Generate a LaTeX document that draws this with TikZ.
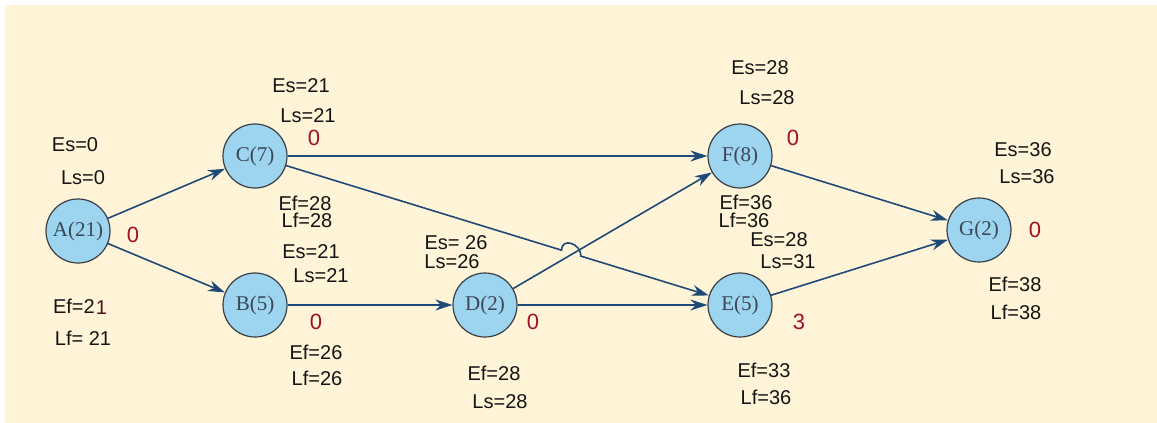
\documentclass[tikz,border=0pt]{standalone}
\usepackage{fontspec}
\setmainfont{Liberation Sans}
\newfontfamily\nodefont{Liberation Serif}
\usetikzlibrary{arrows.meta,calc}
\definecolor{bgcream}{HTML}{FFF4D8}
\definecolor{nodeblue}{HTML}{9DD4F0}
\definecolor{nodeedge}{HTML}{3A3F44}
\definecolor{arrowblue}{HTML}{1F4A78}
\definecolor{slackred}{HTML}{9E1030}
\definecolor{labtext}{HTML}{141414}
\definecolor{nodetext}{HTML}{3C4656}
\begin{document}
\begin{tikzpicture}[x=1pt,y=-1pt,
  act/.style={circle,draw=nodeedge,line width=1.2pt,fill=nodeblue,minimum size=64pt,inner sep=0pt,
    font=\nodefont\fontsize{21}{24}\selectfont,text=nodetext},
  lab/.style={font=\fontsize{20}{23}\selectfont,text=labtext,inner sep=0pt},
  slack/.style={font=\fontsize{22}{25}\selectfont,text=slackred,inner sep=0pt},
  link/.style={draw=arrowblue,line width=1.6pt,-{Stealth[length=17pt,width=11pt]}}]
\useasboundingbox (0,0) rectangle (1157,423);
\fill[white] (0,0) rectangle (1157,423);
\fill[bgcream] (5,5) rectangle (1157,423);

% activities
\node[act] (A) at (78,231) {A(21)};
\node[act] (C) at (255,156) {C(7)};
\node[act] (B) at (255,305) {B(5)};
\node[act] (D) at (485,305) {D(2)};
\node[act] (F) at (740,156) {F(8)};
\node[act] (E) at (740,305) {E(5)};
\node[act] (G) at (979,230) {G(2)};

% connectors
\draw[link] (A) -- (C);
\draw[link] (A) -- (B);
\draw[link] (C) -- (F);
\draw[link] (B) -- (D);
\draw[link] (D) -- (E);
\draw[link] (D) -- (F);
\coordinate (j1) at ($(C)!0.632!(E)$);
\coordinate (j2) at ($(C)!0.672!(E)$);
\draw[link] (C) -- (j1) .. controls ($(j1)+(0,-13)$) and ($(j2)+(0,-13)$) .. (j2) -- (E);
\draw[link] (F) -- (G);
\draw[link] (E) -- (G);

% A
\node[lab] (aes) at (75,145) {Es=0};
\node[lab] (als) at (83,178) {Ls=0};
\node[lab] (aef) at (80,307) {Ef=2\kern1pt\raisebox{-1.5pt}{\color{slackred!40!labtext}1}};
\node[lab] (alf) at (83,338) {Lf= 21};
\node[slack] (asl) at (133,235) {0};
% C
\node[lab] (ces) at (301,86) {Es=21};
\node[lab] (cls) at (308,116) {Ls=21};
\node[slack] (csl) at (314,138) {0};
\node[lab] (cef) at (305,203) {Ef=28};
\node[lab] (clf) at (307,220) {Lf=28};
% B
\node[lab] (bes) at (311,252) {Es=21};
\node[lab] (bls) at (321,276) {Ls=21};
\node[slack] (bsl) at (316,322) {0};
\node[lab] (bef) at (316,352) {Ef=26};
\node[lab] (blf) at (317,378) {Lf=26};
% D
\node[lab] (des) at (456,243) {Es= 26};
\node[lab] (dls) at (452,262) {Ls=26};
\node[slack] (dsl) at (533,322) {0};
\node[lab] (def) at (494,373) {Ef=28};
\node[lab] (dlf) at (500,402) {Ls=28};
% F
\node[lab] (fes) at (760,68) {Es=28};
\node[lab] (fls) at (767,98) {Ls=28};
\node[slack] (fsl) at (793,138) {0};
\node[lab] (fef) at (746,202) {Ef=36};
\node[lab] (flf) at (744,220) {Lf=36};
% E
\node[lab] (ees) at (779,240) {Es=28};
\node[lab] (els) at (788,262) {Ls=31};
\node[slack] (esl) at (799,322) {3};
\node[lab] (eef) at (764,370) {Ef=33};
\node[lab] (elf) at (766,397) {Lf=36};
% G
\node[lab] (ges) at (1023,150) {Es=36};
\node[lab] (gls) at (1027,177) {Ls=36};
\node[slack] (gsl) at (1035,230) {0};
\node[lab] (gef) at (1015,284) {Ef=38};
\node[lab] (glf) at (1016,312) {Lf=38};
\end{tikzpicture}
\end{document}
